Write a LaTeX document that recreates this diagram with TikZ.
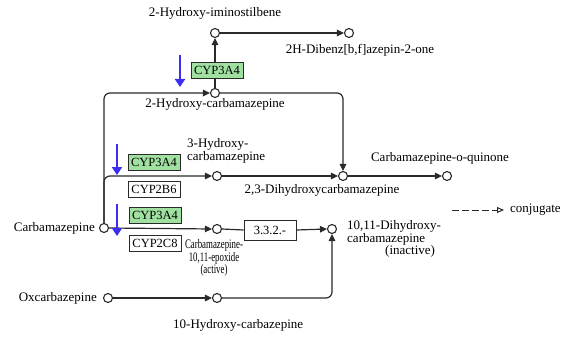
\documentclass[tikz,border=0pt]{standalone}
\usepackage{fontspec}
\setmainfont{Liberation Serif}
\usetikzlibrary{arrows.meta}
\definecolor{lnc}{HTML}{2A2A2A}
\definecolor{enzg}{HTML}{A0E0A0}
\definecolor{blu}{HTML}{3A2EF0}
\tikzset{
  cpd/.style={circle,draw=lnc,fill=white,line width=1.1pt,minimum size=9pt,inner sep=0pt},
  arr/.style={draw=lnc,line width=1.2pt,-{Triangle[length=7pt,width=6.5pt]}},
  ln/.style={draw=lnc,line width=1.2pt},
  enz/.style={draw=lnc,line width=0.9pt,minimum width=52pt,minimum height=16pt,inner sep=0pt,font=\fontsize{12.5}{12.5}\selectfont},
  enzgr/.style={enz,fill=enzg},
  enzwh/.style={enz,fill=white},
  lbl/.style={inner sep=0pt,font=\fontsize{13}{11.5}\selectfont},
  inh/.style={draw=blu,line width=2.8pt,-{Triangle[length=8pt,width=10pt]}},
}
\begin{document}
\begin{tikzpicture}[x=1pt,y=-1pt]
\useasboundingbox (0,0) rectangle (577,339);
% compounds
\node[cpd] (hims) at (215,33) {};
\node[cpd] (dibenz) at (349,33) {};
\node[cpd] (hcbz2) at (215,93) {};
\node[cpd] (hcbz3) at (217,176) {};
\node[cpd] (dih23) at (343,176) {};
\node[cpd] (quin) at (447,176) {};
\node[cpd] (cbz) at (104,228) {};
\node[cpd] (epox) at (217,229) {};
\node[cpd] (dih1011) at (332,229) {};
\node[cpd] (oxc) at (108,298) {};
\node[cpd] (hcarb10) at (217,298) {};
% connectors
\draw[arr] (hcbz2.north) -- (hims.south);
\draw[arr] (hims.east) -- (dibenz.west);
\draw[arr,rounded corners=6pt] (cbz.north) |- (hcbz2.west);
\draw[arr,rounded corners=6pt] (cbz.north) |- (hcbz3.west);
\draw[arr] (cbz.east) -- (epox.west);
\draw[arr,rounded corners=6pt] (hcbz2.east) -| (dih23.north);
\draw[arr] (hcbz3.east) -- (dih23.west);
\draw[arr] (dih23.east) -- (quin.west);
\node[enzwh,minimum height=20pt] (ec) at (270,230) {3.3.2.-};
\draw[ln] (epox.east) -- (ec.west);
\draw[arr] (ec.east) -- (dih1011.west);
\draw[arr] (oxc.east) -- (hcarb10.west);
\draw[arr,rounded corners=6pt] (hcarb10.east) -| (dih1011.south);
% enzymes
\node[enzgr] (e1) at (217,70) {CYP3A4};
\node[enzgr] (e2) at (154,162) {CYP3A4};
\node[enzwh] (e3) at (154,189) {CYP2B6};
\node[enzgr] (e4) at (155,215) {CYP3A4};
\node[enzwh] (e5) at (155,243) {CYP2C8};
% blue arrows
\coordinate (b1s) at (180,55); \coordinate (b1e) at (180,87);
\coordinate (b2s) at (117,144); \coordinate (b2e) at (117,175);
\coordinate (b3s) at (117,204); \coordinate (b3e) at (117,236);
\draw[inh] (b1s) -- (b1e);
\draw[inh] (b2s) -- (b2e);
\draw[inh] (b3s) -- (b3e);
% labels
\node[lbl] (t1) at (215,13) {2-Hydroxy-iminostilbene};
\node[lbl] (t2) at (360,50) {2H-Dibenz[b,f]azepin-2-one};
\node[lbl] (t3) at (215,104) {2-Hydroxy-carbamazepine};
\node[lbl,anchor=west,align=left] (t4) at (187,151) {3-Hydroxy-\\carbamazepine};
\node[lbl] (t5) at (322,190) {2,3-Dihydroxycarbamazepine};
\node[lbl] (t6) at (440,158) {Carbamazepine-o-quinone};
\node[lbl,anchor=east] (t7) at (95,228) {Carbamazepine};
\node[lbl,align=center,xscale=0.68,transform shape] (t8) at (214,258) {Carbamazepine-\\10,11-epoxide\\(active)};
\node[lbl,anchor=north west,align=left] (t9) at (347,220) {10,11-Dihydroxy-\\carbamazepine\\\hspace*{38pt}(inactive)};
\node[lbl,anchor=east] (t10) at (97,298) {Oxcarbazepine};
\node[lbl,anchor=west] (t11) at (173,325) {10-Hydroxy-carbazepine};
% legend
\coordinate (lg1) at (452,210); \coordinate (lg2) at (504,210);
\draw[draw=lnc,line width=1pt,dash pattern=on 7pt off 3pt,-{Triangle[open,length=7pt,width=6pt]}] (lg1) -- (lg2);
\node[lbl,anchor=west] (t12) at (510,210) {conjugate};
\end{tikzpicture}
\end{document}
